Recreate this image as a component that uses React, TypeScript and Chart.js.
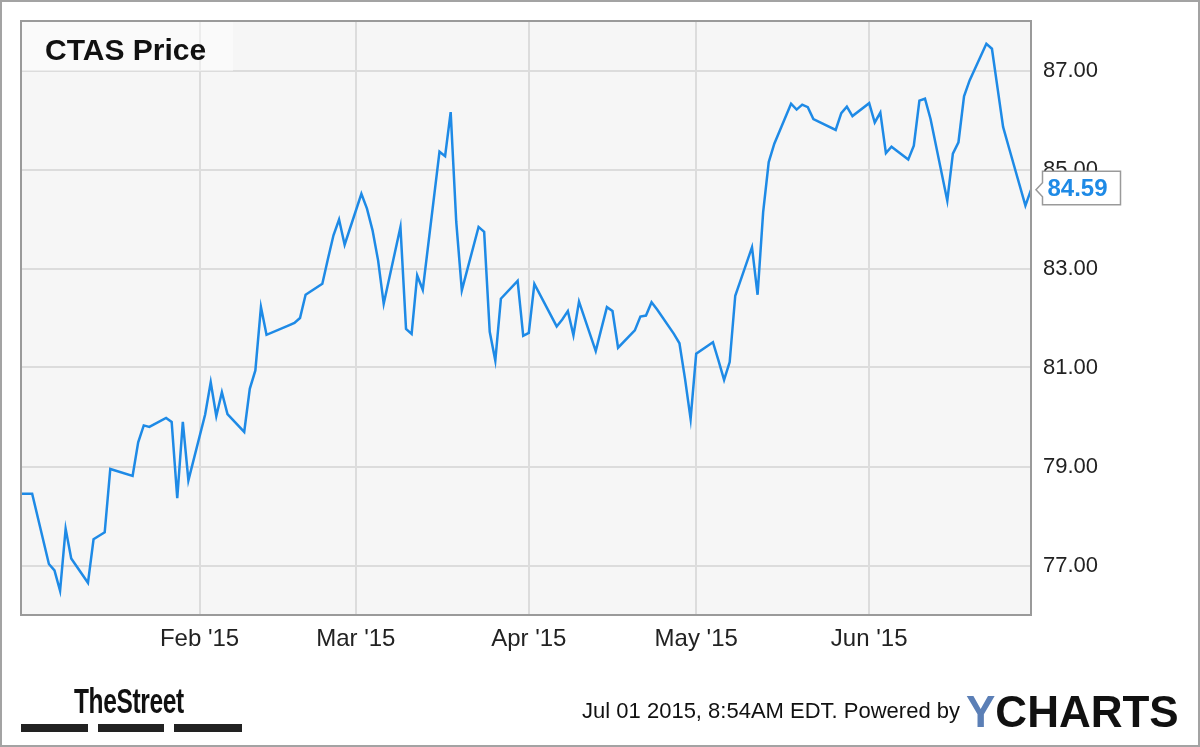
import React, { useEffect, useRef } from "react";
import { Chart, registerables } from "chart.js";

Chart.register(...registerables);

// ---- data ----
const dates: string[] = [
  "2014-12-31", "2015-01-02", "2015-01-05", "2015-01-06", "2015-01-07", "2015-01-08", "2015-01-09",
  "2015-01-12", "2015-01-13", "2015-01-14", "2015-01-15", "2015-01-16", "2015-01-20", "2015-01-21",
  "2015-01-22", "2015-01-23", "2015-01-26", "2015-01-27", "2015-01-28", "2015-01-29", "2015-01-30",
  "2015-02-02", "2015-02-03", "2015-02-04", "2015-02-05", "2015-02-06", "2015-02-09", "2015-02-10",
  "2015-02-11", "2015-02-12", "2015-02-13", "2015-02-17", "2015-02-18", "2015-02-19", "2015-02-20",
  "2015-02-23", "2015-02-24", "2015-02-25", "2015-02-26", "2015-02-27", "2015-03-02", "2015-03-03",
  "2015-03-04", "2015-03-05", "2015-03-06", "2015-03-09", "2015-03-10", "2015-03-11", "2015-03-12",
  "2015-03-13", "2015-03-16", "2015-03-17", "2015-03-18", "2015-03-19", "2015-03-20", "2015-03-23",
  "2015-03-24", "2015-03-25", "2015-03-26", "2015-03-27", "2015-03-30", "2015-03-31", "2015-04-01",
  "2015-04-02", "2015-04-06", "2015-04-07", "2015-04-08", "2015-04-09", "2015-04-10", "2015-04-13",
  "2015-04-14", "2015-04-15", "2015-04-16", "2015-04-17", "2015-04-20", "2015-04-21", "2015-04-22",
  "2015-04-23", "2015-04-24", "2015-04-27", "2015-04-28", "2015-04-29", "2015-04-30", "2015-05-01",
  "2015-05-04", "2015-05-05", "2015-05-06", "2015-05-07", "2015-05-08", "2015-05-11", "2015-05-12",
  "2015-05-13", "2015-05-14", "2015-05-15", "2015-05-18", "2015-05-19", "2015-05-20", "2015-05-21",
  "2015-05-22", "2015-05-26", "2015-05-27", "2015-05-28", "2015-05-29", "2015-06-01", "2015-06-02",
  "2015-06-03", "2015-06-04", "2015-06-05", "2015-06-08", "2015-06-09", "2015-06-10", "2015-06-11",
  "2015-06-12", "2015-06-15", "2015-06-16", "2015-06-17", "2015-06-18", "2015-06-19", "2015-06-22",
  "2015-06-23", "2015-06-24", "2015-06-25", "2015-06-26", "2015-06-29", "2015-06-30",
];

const prices: number[] = [
  78.45, 78.45, 77.03, 76.9, 76.49, 77.74, 77.14,
  76.65, 77.53, 77.6, 77.67, 78.95, 78.81, 79.49,
  79.83, 79.8, 79.98, 79.9, 78.36, 79.9, 78.72,
  80.05, 80.7, 80.02, 80.5, 80.06, 79.7, 80.57,
  80.94, 82.22, 81.66, 81.85, 81.9, 82.0, 82.47,
  82.69, 83.19, 83.67, 83.99, 83.48, 84.51, 84.21,
  83.77, 83.16, 82.29, 83.84, 81.78, 81.68, 82.86,
  82.57, 85.36, 85.27, 86.16, 83.94, 82.56, 83.84,
  83.74, 81.72, 81.14, 82.39, 82.75, 81.64, 81.7,
  82.69, 81.83, 81.97, 82.14, 81.65, 82.33, 81.33,
  81.78, 82.22, 82.14, 81.4, 81.75, 82.03, 82.05,
  82.32, 82.17, 81.68, 81.49, 80.77, 79.96, 81.28,
  81.51, 81.14, 80.75, 81.11, 82.45, 83.43, 82.47,
  84.14, 85.15, 85.52, 86.33, 86.21, 86.31, 86.26,
  86.02, 85.8, 86.14, 86.27, 86.08, 86.34, 85.95,
  86.15, 85.33, 85.46, 85.2, 85.48, 86.39, 86.43,
  86.02, 84.37, 85.32, 85.55, 86.48, 86.8, 87.54,
  87.44, 86.65, 85.86, 85.46, 84.27, 84.59,
];

const xTickDates: string[] = ["2015-02-01", "2015-03-01", "2015-04-01", "2015-05-01", "2015-06-01"];
const xTickLabels: string[] = ["Feb '15", "Mar '15", "Apr '15", "May '15", "Jun '15"];
const yTickValues: number[] = [77, 79, 81, 83, 85, 87];
const xRange: string[] = ["2014-12-31", "2015-06-30"];
const yRange: number[] = [76, 88];

const title = "CTAS Price";
const stamp = "Jul 01 2015, 8:54AM EDT. Powered by";

// ---- helpers ----
const BASE = Date.UTC(2015, 0, 1);
function dayNum(s: string): number {
  const [y, m, d] = s.split("-").map(Number);
  return Math.round((Date.UTC(y, m - 1, d) - BASE) / 86400000);
}

const FONT = "'Liberation Sans', Arial, sans-serif";
const LINE_COLOR = "#1e8ae6";

export default function App() {
  const ref = useRef<HTMLCanvasElement | null>(null);

  useEffect(() => {
    const canvas = ref.current;
    if (!canvas) return;
    const points = dates.map((d, i) => ({ x: dayNum(d), y: prices[i] }));
    const xTicks = xTickDates.map(dayNum);

    const framePlugin = {
      id: "frame",
      beforeDraw(chart: any) {
        const { ctx, chartArea: a } = chart;
        ctx.save();
        ctx.fillStyle = "#f6f6f6";
        ctx.fillRect(a.left, a.top, a.right - a.left, a.bottom - a.top);
        ctx.restore();
      },
      afterDatasetsDraw(chart: any) {
        const { ctx, chartArea: a } = chart;
        ctx.save();
        ctx.strokeStyle = "#9a9a9a";
        ctx.lineWidth = 2;
        ctx.strokeRect(a.left, a.top, a.right - a.left, a.bottom - a.top);
        ctx.restore();
      },
      afterDraw(chart: any) {
        const { ctx } = chart;
        const xs = chart.scales.x;
        const ys = chart.scales.y;
        const last = points[points.length - 1];
        const px = xs.getPixelForValue(last.x);
        const py = ys.getPixelForValue(last.y);
        const left = px + 11.5;
        const top = py - 18.5;
        const w = 78;
        const h = 33.5;
        ctx.save();
        ctx.fillStyle = "#ffffff";
        ctx.strokeStyle = "#9a9a9a";
        ctx.lineWidth = 1.5;
        ctx.beginPath();
        ctx.moveTo(left, top);
        ctx.lineTo(left + w, top);
        ctx.lineTo(left + w, top + h);
        ctx.lineTo(left, top + h);
        ctx.lineTo(left, py + 7);
        ctx.lineTo(px + 5, py);
        ctx.lineTo(left, py - 7);
        ctx.closePath();
        ctx.fill();
        ctx.stroke();
        ctx.fillStyle = LINE_COLOR;
        ctx.font = `bold 24px ${FONT}`;
        ctx.textAlign = "left";
        ctx.textBaseline = "middle";
        ctx.fillText(last.y.toFixed(2), left + 5, top + h / 2 + 1);
        ctx.restore();
      },
    };

    const chart = new Chart(canvas, {
      type: "line",
      data: {
        datasets: [
          {
            data: points,
            borderColor: LINE_COLOR,
            borderWidth: 2.5,
            pointRadius: 0,
            tension: 0,
            fill: false,
          },
        ],
      },
      options: {
        animation: false,
        responsive: false,
        events: [],
        layout: { padding: { left: 21, top: 21, right: 0, bottom: 0 } },
        plugins: {
          legend: { display: false },
          tooltip: { enabled: false },
          title: { display: false },
        },
        scales: {
          x: {
            type: "linear",
            min: dayNum(xRange[0]),
            max: dayNum(xRange[1]),
            position: "bottom",
            border: { display: false },
            grid: { color: "#dcdcdc", lineWidth: 2, drawTicks: false, tickLength: 0 },
            afterBuildTicks: (scale: any) => {
              scale.ticks = xTicks.map((v) => ({ value: v }));
            },
            afterFit: (scale: any) => {
              scale.height = 132;
              scale.paddingLeft = 0;
              scale.paddingRight = 0;
            },
            ticks: {
              autoSkip: false,
              maxRotation: 0,
              minRotation: 0,
              padding: 10,
              color: "#222",
              font: { family: FONT, size: 24 },
              callback: (v: any) => {
                const i = xTicks.indexOf(Number(v));
                return i >= 0 ? xTickLabels[i] : "";
              },
            },
          },
          y: {
            type: "linear",
            position: "right",
            min: yRange[0],
            max: yRange[1],
            border: { display: false },
            grid: { color: "#dcdcdc", lineWidth: 2, drawTicks: false, tickLength: 0 },
            afterBuildTicks: (scale: any) => {
              scale.ticks = yTickValues.map((v) => ({ value: v }));
            },
            afterFit: (scale: any) => {
              scale.width = 169;
              scale.paddingTop = 0;
              scale.paddingBottom = 0;
            },
            ticks: {
              padding: 12,
              color: "#222",
              font: { family: FONT, size: 22 },
              callback: (v: any) => Number(v).toFixed(2),
            },
          },
        },
      } as any,
      plugins: [framePlugin],
    });
    return () => chart.destroy();
  }, []);

  return (
    <div
      style={{
        position: "absolute",
        left: 0,
        top: 0,
        width: 1200,
        height: 747,
        background: "#ffffff",
        overflow: "hidden",
        fontFamily: FONT,
      }}
    >
      <canvas ref={ref} width={1200} height={747} style={{ position: "absolute", left: 0, top: 0, width: 1200, height: 747 }} />
      <div
        style={{
          position: "absolute",
          left: 22,
          top: 22,
          width: 211,
          height: 49,
          background: "rgba(255,255,255,0.45)",
        }}
      />
      <div
        style={{
          position: "absolute",
          left: 45,
          top: 34.6,
          fontSize: 30,
          lineHeight: "30px",
          fontWeight: "bold",
          color: "#111",
          whiteSpace: "nowrap",
        }}
      >
        {title}
      </div>
      <div
        style={{
          position: "absolute",
          left: 74,
          top: 683.4,
          fontSize: 35,
          lineHeight: "35px",
          fontWeight: "bold",
          color: "#111",
          whiteSpace: "nowrap",
          transform: "scaleX(0.7)",
          transformOrigin: "left top",
          letterSpacing: "-0.5px",
        }}
      >
        TheStreet
      </div>
      <div style={{ position: "absolute", left: 21, top: 724, width: 67, height: 8, background: "#222" }} />
      <div style={{ position: "absolute", left: 98, top: 724, width: 66, height: 8, background: "#222" }} />
      <div style={{ position: "absolute", left: 174, top: 724, width: 68, height: 8, background: "#222" }} />
      <div
        style={{
          position: "absolute",
          right: 240,
          top: 700.4,
          fontSize: 22,
          lineHeight: "22px",
          color: "#111",
          whiteSpace: "nowrap",
        }}
      >
        {stamp}
      </div>
      <div
        style={{
          position: "absolute",
          left: 966,
          top: 689.8,
          fontSize: 44,
          lineHeight: "44px",
          fontWeight: "bold",
          color: "#111",
          whiteSpace: "nowrap",
        }}
      >
        <span style={{ color: "#5b7fb6" }}>Y</span>CHARTS
      </div>
      <div
        style={{
          position: "absolute",
          left: 0,
          top: 0,
          width: 1200,
          height: 747,
          boxSizing: "border-box",
          border: "2px solid #a3a3a3",
          pointerEvents: "none",
        }}
      />
    </div>
  );
}
